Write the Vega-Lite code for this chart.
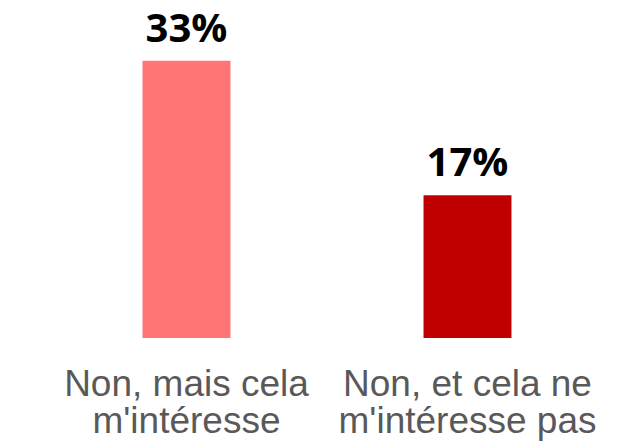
{
  "$schema": "https://vega.github.io/schema/vega-lite/v6.json",
  "width": 562,
  "height": 336,
  "autosize": {"type": "none"},
  "padding": {"top": 2, "left": 46, "right": 33, "bottom": 110},
  "background": "white",
  "config": {"view": {"stroke": null}},
  "data": {
    "values": [
      {"cat": "Non, mais cela\nm'intéresse", "value": 33, "label": "33%", "color": "a"},
      {"cat": "Non, et cela ne\nm'intéresse pas", "value": 17, "label": "17%", "color": "b"}
    ]
  },
  "encoding": {
    "x": {
      "field": "cat",
      "type": "nominal",
      "sort": null,
      "scale": {"paddingInner": 0.687, "paddingOuter": 0.3435},
      "axis": {
        "title": null,
        "domain": false,
        "ticks": false,
        "labelAngle": 0,
        "labelFont": "Liberation Sans",
        "labelFontSize": 37,
        "labelColor": "#595959",
        "labelLimit": 0,
        "labelPadding": 28,
        "labelLineHeight": 37,
        "labelExpr": "split(datum.label, '\\n')"
      }
    },
    "y": {
      "field": "value",
      "type": "quantitative",
      "scale": {"domain": [0, 40]},
      "axis": null
    }
  },
  "layer": [
    {
      "mark": {"type": "bar"},
      "encoding": {
        "color": {
          "field": "color",
          "type": "nominal",
          "scale": {"domain": ["a", "b"], "range": ["#FF7575", "#C00000"]},
          "legend": null
        }
      }
    },
    {
      "mark": {
        "type": "text",
        "baseline": "alphabetic",
        "dy": -19,
        "font": "Open Sans",
        "fontWeight": "bold",
        "fontSize": 40,
        "color": "#000000"
      },
      "encoding": {"text": {"field": "label"}}
    }
  ]
}
